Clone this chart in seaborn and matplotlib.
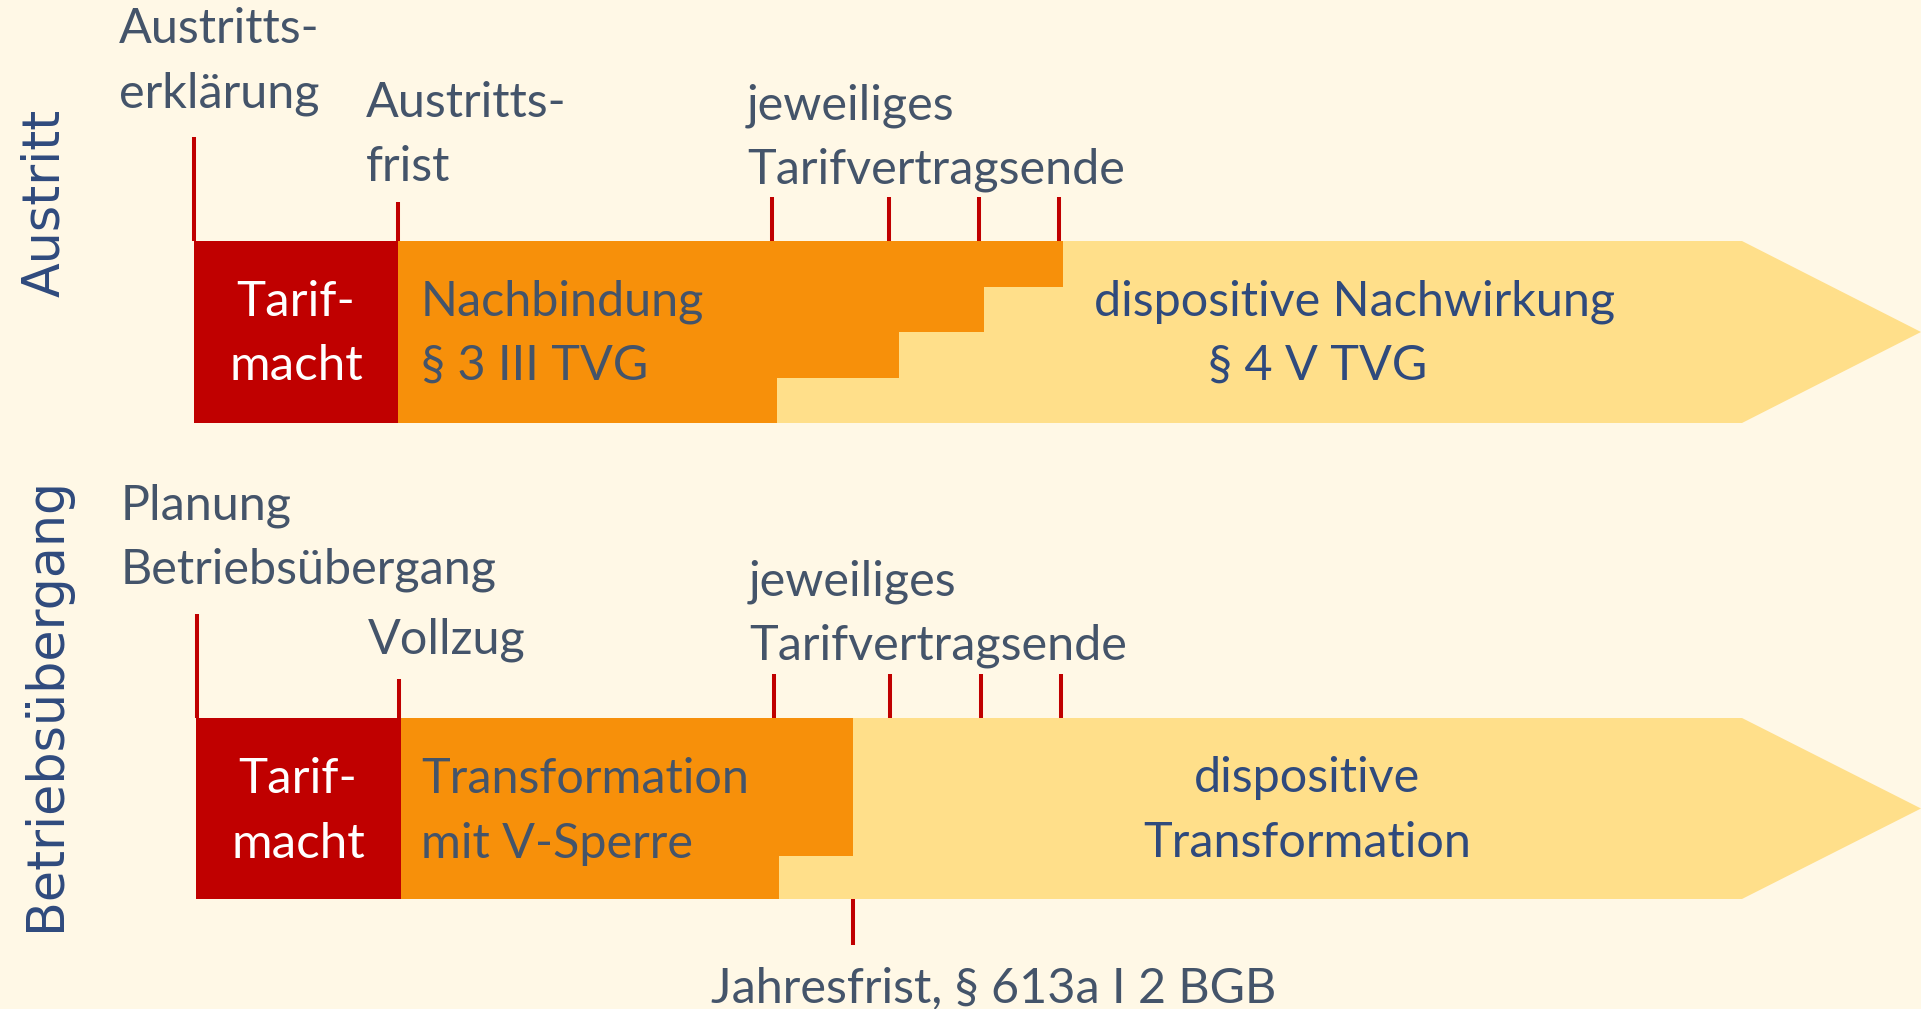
import matplotlib
matplotlib.use('Agg')
import matplotlib.pyplot as plt
import seaborn as sns
import numpy as np

# Farben
bg = '#FFF8E6'
rot = '#C00000'
orange = '#F7900A'
hellgelb = '#FFDF8A'
grau = '#44546A'
blau = '#2F4A7D'

# --- Austritt (oberer Pfeil) ---
aus_y = [241, 423]                       # Ober-/Unterkante des Pfeils
aus_tick_x = [194, 398, 772, 889, 979, 1059]
aus_tick_top = [137, 202, 197, 197, 197, 197]
aus_rot = [194, 398]
aus_stufen_y = [241, 287, 332, 378, 423]   # Stufen der Nachbindung
aus_stufen_x = [1063, 984, 899, 777]

# --- Betriebsübergang (unterer Pfeil) ---
bue_y = [718, 899]
bue_tick_x = [197, 399, 774, 890, 981, 1061]
bue_tick_top = [614, 679, 674, 674, 674, 674]
bue_rot = [196, 401]
bue_stufen_y = [718, 856, 899]
bue_stufen_x = [853, 779]
jahresfrist_x = 853
jahresfrist_y = [899, 945]

pfeil_ende = 1742
pfeil_spitze = 1921

sns.set_theme(style='white')
plt.rcParams['font.family'] = ['Lato', 'DejaVu Sans']

fig = plt.figure(figsize=(19.21, 10.09), dpi=100, facecolor=bg)
ax = fig.add_axes([0, 0, 1, 1])
ax.set_facecolor(bg)
ax.set_xlim(0, 1921)
ax.set_ylim(1009, 0)
ax.axis('off')


def pfeil(y, rx, stufen_y, stufen_x, ticks_x, ticks_top):
    top, bot = y
    mid = (top + bot) / 2
    ax.fill([rx[0], pfeil_ende, pfeil_spitze, pfeil_ende, rx[0]],
            [top, top, mid, bot, bot], color=hellgelb, lw=0)
    for i, sx in enumerate(stufen_x):
        ax.fill_between([rx[1], sx], stufen_y[i], stufen_y[i + 1], color=orange, lw=0)
    ax.fill_between(rx, top, bot, color=rot, lw=0)
    ax.vlines(ticks_x, ticks_top, top, color=rot, lw=2.9)


pfeil(aus_y, aus_rot, aus_stufen_y, aus_stufen_x, aus_tick_x, aus_tick_top)
pfeil(bue_y, bue_rot, bue_stufen_y, bue_stufen_x, bue_tick_x, bue_tick_top)
ax.vlines(jahresfrist_x, *jahresfrist_y, color=rot, lw=2.9)

fs = 34.9
kw = dict(fontsize=fs, va='baseline', color=grau)

# obere Beschriftungen
ax.text(119, 43, 'Austritts-', **kw)
ax.text(119, 107, 'erklärung', **kw)
ax.text(366, 117, 'Austritts-', **kw)
ax.text(366, 181, 'frist', **kw)
ax.text(747, 119, 'jeweiliges', **kw)
ax.text(747, 183, 'Tarifvertragsende', **kw)
ax.text(296, 316, 'Tarif-', fontsize=fs + 0.6, va='baseline', ha='center', color='white')
ax.text(296, 380, 'macht', fontsize=fs + 0.6, va='baseline', ha='center', color='white')
ax.text(421, 316, 'Nachbindung', **kw)
ax.text(421, 380, '§ 3 III TVG', **kw)
ax.text(1094, 315, 'dispositive Nachwirkung', fontsize=fs, va='baseline', color=blau)
ax.text(1208, 380, '§ 4 V TVG', fontsize=fs, va='baseline', color=blau)

# untere Beschriftungen
ax.text(121, 520, 'Planung', **kw)
ax.text(121, 583, 'Betriebsübergang', **kw)
ax.text(368, 654, 'Vollzug', **kw)
ax.text(749, 596, 'jeweiliges', **kw)
ax.text(749, 660, 'Tarifvertragsende', **kw)
ax.text(298, 793, 'Tarif-', fontsize=fs + 0.6, va='baseline', ha='center', color='white')
ax.text(298, 858, 'macht', fontsize=fs + 0.6, va='baseline', ha='center', color='white')
ax.text(421, 793, 'Transformation', **kw)
ax.text(421, 858, 'mit V-Sperre', **kw)
ax.text(1307, 792, 'dispositive', fontsize=fs, va='baseline', ha='center', color=blau)
ax.text(1307, 857, 'Transformation', fontsize=fs, va='baseline', ha='center', color=blau)
ax.text(711, 1002, 'Jahresfrist, § 613a I 2 BGB', **kw)

# seitliche Titel
ax.text(59, 203, 'Austritt', rotation=90, rotation_mode='anchor', ha='center',
        va='baseline', fontsize=36.5, color=blau, family='DejaVu Sans')
ax.text(60, 704, 'Betriebsübergang', rotation=90, rotation_mode='anchor', ha='center',
        va='baseline', fontsize=36.5, color=blau, family='DejaVu Sans')

fig.savefig('out.png', dpi=100, facecolor=bg)
